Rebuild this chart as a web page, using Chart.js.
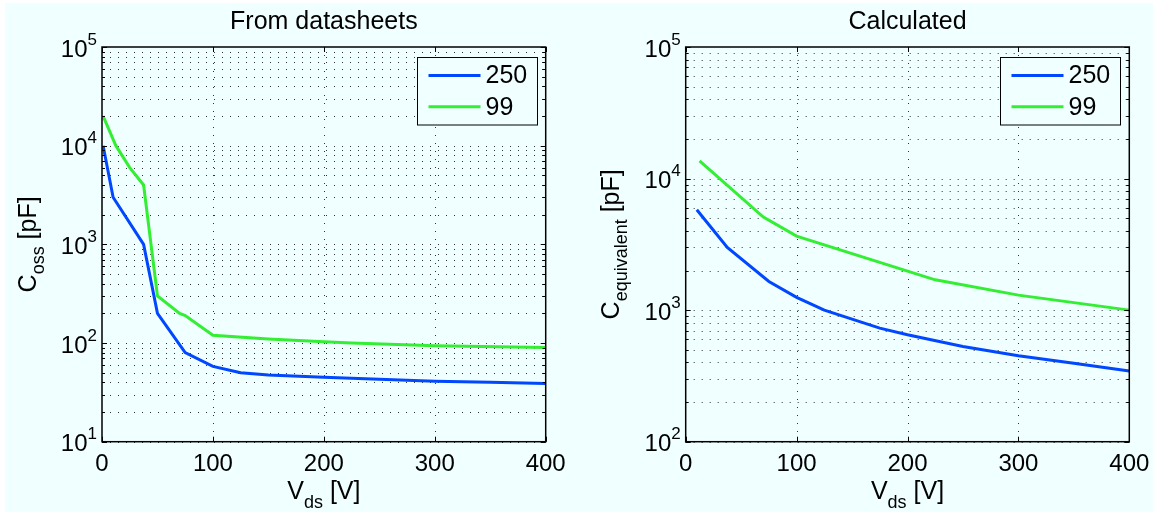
<!DOCTYPE html>
<html>
<head>
<meta charset="utf-8">
<script src="https://cdn.jsdelivr.net/npm/chart.js@4"></script>
<style>
  body { margin: 0; background: #fff; }
  #wrap { position: relative; width: 1158px; height: 515px; }
  #bg { position: absolute; left: 5px; top: 3px; width: 1148px; height: 509px; background: #f0ffff; }
  canvas { position: absolute; top: 0; }
</style>
</head>
<body>
<div id="wrap">
  <div id="bg"></div>
  <canvas id="leftChart" width="579" height="515" style="left:0"></canvas>
  <canvas id="rightChart" width="579" height="515" style="left:579px"></canvas>
</div>
<script>
// values
const seriesLabels = ["250", "99"];
const xTicks = [0, 100, 200, 300, 400];

// left: "From datasheets"
const dsV250 = [1, 10, 37.5, 50, 75, 100, 125, 150, 200, 250, 300, 350, 400];
const dsC250 = [10000, 3000, 1000, 200, 80, 58, 50, 47.5, 45, 43, 41, 40, 39];
const dsV99 = [1, 12.5, 25, 37.5, 50, 70, 75, 100, 150, 200, 225, 300, 400];
const dsC99 = [20000, 10000, 6000, 4000, 300, 200, 190, 120, 110, 103, 100, 94, 90];
const dsYExp = [1, 2, 3, 4, 5];

// right: "Calculated"
const calcV250 = [10, 37.5, 75, 100, 125, 175, 200, 250, 300, 350, 400];
const calcC250 = [5800, 3000, 1650, 1250, 1000, 730, 650, 530, 450, 395, 345];
const calcV99 = [12.5, 70, 100, 225, 300, 400];
const calcC99 = [13600, 5100, 3650, 1700, 1300, 1000];
const calcYExp = [2, 3, 4, 5];

const BLUE = "#0047ff";
const GREEN = "#33ee33";
const BG = "#f0ffff";
const FONT = '"Liberation Sans", Arial, Helvetica, sans-serif';

function richText(ctx, parts, x, y, align) {
  let w = 0;
  parts.forEach(p => {
    ctx.font = p.size + "px " + FONT;
    p.w = ctx.measureText(p.t).width;
    w += p.w;
  });
  let cx = align === "center" ? x - w / 2 : align === "right" ? x - w : x;
  ctx.textAlign = "left";
  ctx.textBaseline = "alphabetic";
  parts.forEach(p => {
    ctx.font = p.size + "px " + FONT;
    ctx.fillText(p.t, cx, y + (p.dy || 0));
    cx += p.w;
  });
}

function line(ctx, x1, y1, x2, y2) {
  ctx.beginPath();
  ctx.moveTo(x1, y1);
  ctx.lineTo(x2, y2);
  ctx.stroke();
}

// grid, box, ticks and labels drawn the way matlab does them
const matlabLook = {
  id: "matlabLook",
  beforeDatasetsDraw(chart, args, opts) {
    const { ctx, chartArea: a, scales: { x, y } } = chart;
    ctx.save();
    ctx.strokeStyle = "#333";
    ctx.lineWidth = 1;
    ctx.setLineDash([1, 7]);
    xTicks.slice(1, -1).forEach(v => {
      const px = Math.round(x.getPixelForValue(v)) + 0.5;
      line(ctx, px, a.top, px, a.bottom);
    });
    opts.exps.slice(0, -1).forEach(e => {
      for (let k = 1; k <= 9; k++) {
        const py = Math.round(y.getPixelForValue(k * Math.pow(10, e))) + 0.5;
        line(ctx, a.left, py, a.right, py);
      }
    });
    ctx.restore();
  },
  afterDatasetsDraw(chart, args, opts) {
    const { ctx, chartArea: a, scales: { x, y } } = chart;
    ctx.save();
    ctx.strokeStyle = "#000";
    ctx.fillStyle = "#000";
    ctx.lineWidth = 1;

    // inner ticks
    xTicks.forEach(v => {
      const px = Math.round(x.getPixelForValue(v)) + 0.5;
      line(ctx, px, a.bottom, px, a.bottom - 5);
      line(ctx, px, a.top, px, a.top + 5);
    });
    opts.exps.forEach((e, i) => {
      const last = i === opts.exps.length - 1;
      for (let k = 1; k <= (last ? 1 : 9); k++) {
        const py = Math.round(y.getPixelForValue(k * Math.pow(10, e))) + 0.5;
        const len = k === 1 ? 5 : 3;
        line(ctx, a.left, py, a.left + len, py);
        line(ctx, a.right, py, a.right - len, py);
      }
    });

    // box
    ctx.lineWidth = 1.5;
    ctx.strokeRect(a.left, a.top, a.right - a.left, a.bottom - a.top);

    // y tick labels 10^n
    opts.exps.forEach(e => {
      const py = y.getPixelForValue(Math.pow(10, e));
      ctx.font = "17px " + FONT;
      const supW = ctx.measureText(String(e)).width;
      richText(ctx, [{ t: "10", size: 24 }], a.left - 5 - supW, py + 9.5, "right");
      richText(ctx, [{ t: String(e), size: 17 }], a.left - 5 - supW, py - 2.5, "left");
    });

    // title
    const cx = (a.left + a.right) / 2;
    richText(ctx, [{ t: opts.title, size: 25 }], cx, 28.5, "center");

    // x axis label
    richText(ctx, [
      { t: "V", size: 25 },
      { t: "ds", size: 18, dy: 9.5 },
      { t: " [V]", size: 25 }
    ], cx, 498.5, "center");

    // y axis label
    ctx.save();
    ctx.translate(a.left - 66.5, (a.top + a.bottom) / 2);
    ctx.rotate(-Math.PI / 2);
    richText(ctx, [
      { t: "C", size: 25 },
      { t: opts.ySub, size: 18, dy: 8 },
      { t: " [pF]", size: 25 }
    ], 0, 0, "center");
    ctx.restore();

    // legend
    const bw = 120, bh = 67.5;
    const bx = Math.round(a.right - 9 - bw) + 0.5;
    const by = Math.round(a.top + 10) + 0.5;
    ctx.fillStyle = BG;
    ctx.fillRect(bx, by, bw, bh);
    ctx.lineWidth = 1;
    ctx.strokeStyle = "#000";
    ctx.strokeRect(bx, by, bw, bh);
    chart.data.datasets.forEach((ds, i) => {
      const ly = by + 18 + i * 31.3;
      ctx.strokeStyle = ds.borderColor;
      ctx.lineWidth = 3;
      line(ctx, bx + 11, ly, bx + 63, ly);
      ctx.fillStyle = "#000";
      ctx.font = "25px " + FONT;
      ctx.textAlign = "left";
      ctx.textBaseline = "middle";
      ctx.fillText(ds.label, bx + 68, ly + 1);
    });
    ctx.restore();
  }
};

function toPoints(xs, ys) {
  return xs.map((v, i) => ({ x: v, y: ys[i] }));
}

function makeChart(id, cfg) {
  return new Chart(document.getElementById(id), {
    type: "line",
    data: {
      datasets: [
        { label: seriesLabels[0], data: toPoints(cfg.v250, cfg.c250), borderColor: BLUE },
        { label: seriesLabels[1], data: toPoints(cfg.v99, cfg.c99), borderColor: GREEN }
      ]
    },
    options: {
      responsive: false,
      animation: false,
      devicePixelRatio: 1,
      layout: { padding: { left: 0, top: 47, right: cfg.padRight, bottom: 0 } },
      elements: {
        line: { borderWidth: 3, tension: 0 },
        point: { radius: 0 }
      },
      scales: {
        x: {
          type: "linear",
          min: 0,
          max: 400,
          grid: { display: false, drawTicks: false },
          border: { display: false },
          ticks: { color: "#000", font: { family: FONT, size: 24 }, padding: 8, maxRotation: 0 },
          afterBuildTicks: s => { s.ticks = xTicks.map(v => ({ value: v })); },
          afterFit: s => { s.height = 73.3; }
        },
        y: {
          type: "logarithmic",
          min: Math.pow(10, cfg.exps[0]),
          max: Math.pow(10, cfg.exps[cfg.exps.length - 1]),
          grid: { display: false },
          border: { display: false },
          ticks: { display: false },
          afterBuildTicks: s => { s.ticks = cfg.exps.map(e => ({ value: Math.pow(10, e) })); },
          afterFit: s => { s.width = cfg.yWidth; }
        }
      },
      plugins: {
        legend: { display: false },
        tooltip: { enabled: false },
        matlabLook: { title: cfg.title, ySub: cfg.ySub, exps: cfg.exps }
      }
    },
    plugins: [matlabLook]
  });
}

makeChart("leftChart", {
  title: "From datasheets", ySub: "oss", exps: dsYExp,
  v250: dsV250, c250: dsC250, v99: dsV99, c99: dsC99,
  yWidth: 102, padRight: 33.3
});

makeChart("rightChart", {
  title: "Calculated", ySub: "equivalent", exps: calcYExp,
  v250: calcV250, c250: calcC250, v99: calcV99, c99: calcC99,
  yWidth: 106.7, padRight: 28.7
});
</script>
</body>
</html>
